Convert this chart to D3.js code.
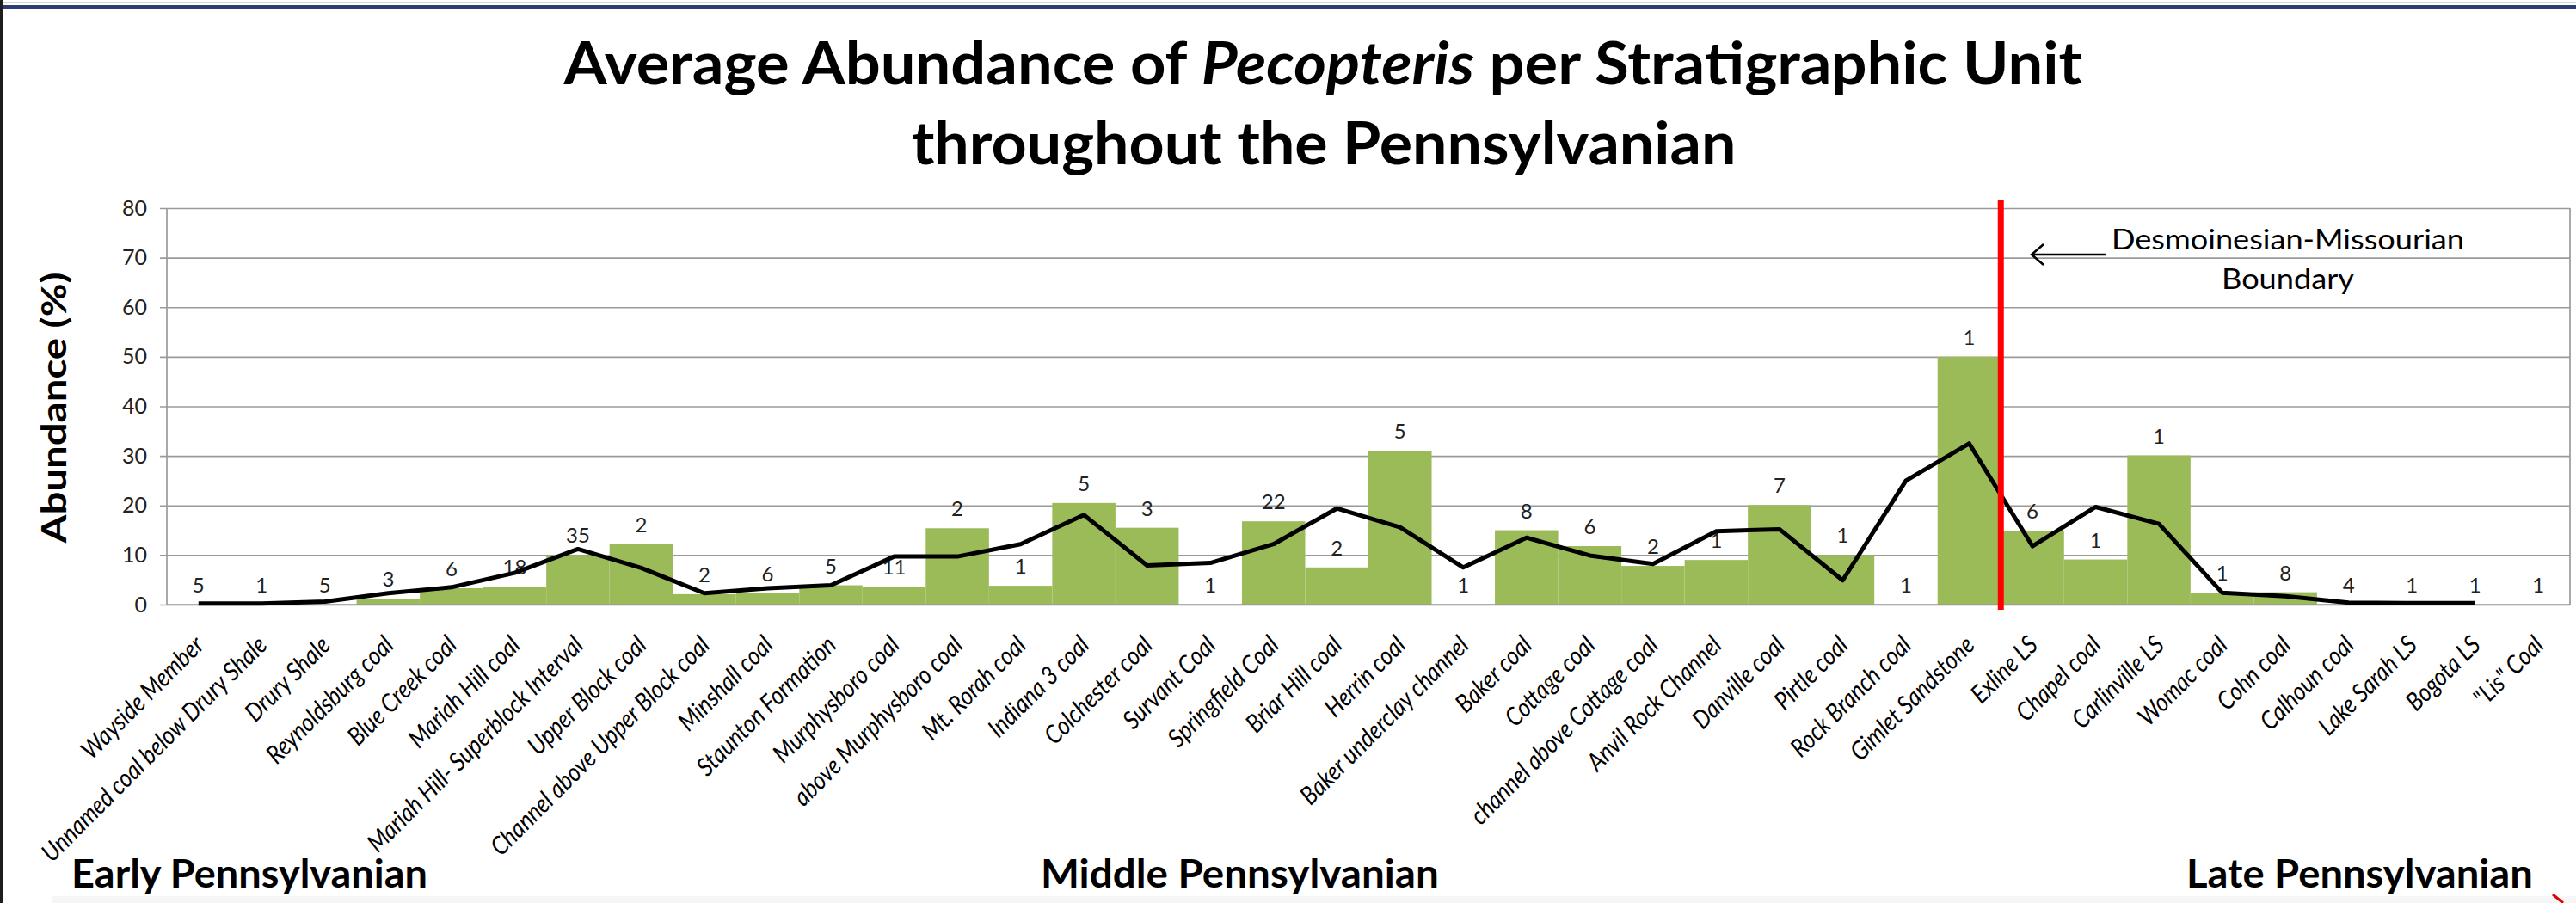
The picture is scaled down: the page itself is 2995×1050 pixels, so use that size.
<!DOCTYPE html>
<html><head><meta charset="utf-8">
<script src="https://cdn.jsdelivr.net/npm/d3@7"></script>
<style>html,body{margin:0;padding:0;background:#fff;} svg{display:block;}</style>
</head><body>
<svg id="c" width="2995" height="1050"></svg>
<script>
const categories = ["Wayside Member","Unnamed coal below Drury Shale","Drury Shale","Reynoldsburg coal","Blue Creek coal","Mariah Hill coal","Mariah Hill- Superblock Interval","Upper Block coal","Channel above Upper Block coal","Minshall coal","Staunton Formation","Murphysboro coal","above Murphysboro coal","Mt. Rorah coal","Indiana 3 coal","Colchester coal","Survant Coal","Springfield Coal","Briar Hill coal","Herrin coal","Baker underclay channel","Baker coal","Cottage coal","channel above Cottage coal","Anvil Rock Channel","Danville coal","Pirtle coal","Rock Branch coal","Gimlet Sandstone","Exline LS","Chapel coal","Carlinville LS","Womac coal","Cohn coal","Calhoun coal","Lake Sarah LS","Bogota LS","\"Lis\" Coal"];
const barValues = [0,0,0,1.2,3.3,3.6,10.0,12.2,2.1,2.3,3.9,3.6,15.4,3.8,20.5,15.5,0,16.8,7.5,31.0,0,15.0,11.8,7.8,9.0,20.1,10.0,0,50.0,14.9,9.1,30.1,2.4,2.5,0,0,0,0];
const lineValues = [0.2,0.2,0.6,2.3,3.5,6.4,11.2,7.4,2.3,3.3,3.9,9.7,9.7,12.2,18.1,7.9,8.4,12.2,19.4,15.6,7.5,13.5,9.9,8.2,14.8,15.2,4.9,25.0,32.5,11.8,19.7,16.3,2.4,1.7,0.4,0.3,0.3,null];
const sampleCounts = [5,1,5,3,6,18,35,2,2,6,5,11,2,1,5,3,1,22,2,5,1,8,6,2,1,7,1,1,1,6,1,1,1,8,4,1,1,1];
const yTicks = [0,10,20,30,40,50,60,70,80];
const titleLine1 = ["Average Abundance of ", "Pecopteris", " per Stratigraphic Unit"];
const titleLine2 = "throughout the Pennsylvanian";
const yTitle = "Abundance (%)";
const eraLabels = ["Early Pennsylvanian","Middle Pennsylvanian","Late Pennsylvanian"];
const boundaryCategory = "Exline LS";
const boundaryNote = ["Desmoinesian-Missourian","Boundary"];

const W = 2995, H = 1050;
const plot = {left:194, right:2988, top:242, bottom:703};
const FONT = "Lato, 'Open Sans', 'DejaVu Sans', sans-serif";
const GREEN = "#9bbb59", GRID = "#9a9a9a";

const svg = d3.select("#c");
const x = d3.scaleBand().domain(categories).range([plot.left, plot.right]).padding(0);
const y = d3.scaleLinear().domain([0, 80]).range([plot.bottom, plot.top]);
const cx = c => x(c) + x.bandwidth() / 2;

function fitX(sel, target, ox) {
  const len = sel.node().getComputedTextLength();
  const s = target / len;
  sel.attr("transform", `translate(${ox},0) scale(${s},1) translate(${-ox},0)`);
  return s;
}

// background & slide frame
svg.append("rect").attr("width", W).attr("height", H).attr("fill", "#fff");
svg.append("rect").attr("x", 0).attr("y", 2).attr("width", W).attr("height", 2).attr("fill", "#d4d4d4");
svg.append("rect").attr("x", 0).attr("y", 6).attr("width", W).attr("height", 4.5).attr("fill", "#2c3c74");
svg.append("rect").attr("x", 0).attr("y", 0).attr("width", 3).attr("height", H).attr("fill", "#1e1e1e");
svg.append("rect").attr("x", 60).attr("y", 1042).attr("width", W - 60).attr("height", 8).attr("fill", "#f6f6f6");

// title
const t1 = svg.append("text").attr("x", 1538).attr("y", 98).attr("text-anchor", "middle")
  .attr("font-family", FONT).attr("font-weight", 700).attr("font-size", 68).attr("fill", "#000");
titleLine1.forEach((s, i) => t1.append("tspan").text(s).attr("font-style", i === 1 ? "italic" : "normal"));
fitX(t1, 1765, 1538);
const t2 = svg.append("text").attr("x", 1539).attr("y", 191).attr("text-anchor", "middle")
  .attr("font-family", FONT).attr("font-weight", 700).attr("font-size", 68).attr("fill", "#000").text(titleLine2);
fitX(t2, 959, 1539);

// y axis with gridlines
const yAxisG = svg.append("g").attr("transform", `translate(${plot.right},0)`)
  .call(d3.axisLeft(y).tickValues(yTicks).tickSize(plot.right - plot.left + 8).tickPadding(15));
yAxisG.select(".domain").remove();
yAxisG.selectAll(".tick line").attr("stroke", GRID).attr("stroke-width", 1.7);
yAxisG.selectAll(".tick text").attr("font-family", FONT).attr("font-size", 25).attr("fill", "#222");

// bars
svg.append("g").selectAll("rect").data(categories).join("rect")
  .attr("x", c => x(c)).attr("width", x.bandwidth())
  .attr("y", (c, i) => y(barValues[i])).attr("height", (c, i) => y(0) - y(barValues[i]))
  .attr("fill", GREEN);

// axis lines & plot border
svg.append("line").attr("x1", plot.left).attr("x2", plot.left).attr("y1", plot.top).attr("y2", plot.bottom).attr("stroke", GRID).attr("stroke-width", 1.7);
svg.append("line").attr("x1", plot.right).attr("x2", plot.right).attr("y1", plot.top).attr("y2", plot.bottom).attr("stroke", GRID).attr("stroke-width", 1.7);
svg.append("line").attr("x1", plot.left).attr("x2", plot.right).attr("y1", y(0)).attr("y2", y(0)).attr("stroke", GRID).attr("stroke-width", 1.7);

// data labels (sample counts)
svg.append("g").selectAll("text").data(categories).join("text")
  .attr("x", c => cx(c)).attr("y", (c, i) => y(barValues[i]) - 14)
  .attr("text-anchor", "middle").attr("font-family", FONT).attr("font-size", 24).attr("fill", "#222")
  .text((c, i) => sampleCounts[i]);

// average line
const line = d3.line().defined(d => d != null).x((d, i) => cx(categories[i])).y(d => y(d));
svg.append("path").attr("d", line(lineValues)).attr("fill", "none").attr("stroke", "#000")
  .attr("stroke-width", 5).attr("stroke-linejoin", "round");

// category labels (slightly condensed to mimic the narrow original face)
const SQ = 0.88;
const xl = svg.append("g").selectAll("text").data(categories).join("text")
  .attr("text-anchor", "end").attr("font-family", FONT).attr("font-style", "italic")
  .attr("font-size", 24).attr("fill", "#000").text(c => c);
const longest = xl.filter(c => c === categories[1]).node().getComputedTextLength();
xl.attr("font-size", 24 * 356 / (longest * SQ))
  .attr("transform", c => `translate(${cx(c) + 8},752) rotate(-45) scale(${SQ},1)`);

// y title
const yt = svg.append("text").attr("transform", "translate(77,474) rotate(-90)")
  .attr("text-anchor", "middle").attr("font-family", FONT).attr("font-weight", 700)
  .attr("font-size", 40).attr("fill", "#000").text(yTitle);
const ytl = yt.node().getComputedTextLength();
yt.attr("transform", `translate(77,474) rotate(-90) scale(${315 / ytl},1)`);

// boundary line
svg.append("line").attr("x1", x(boundaryCategory)).attr("x2", x(boundaryCategory))
  .attr("y1", 233).attr("y2", 709).attr("stroke", "#ff0000").attr("stroke-width", 7);

// boundary annotation
const n1 = svg.append("text").attr("x", 2660).attr("y", 290).attr("text-anchor", "middle")
  .attr("font-family", FONT).attr("font-size", 33).attr("fill", "#000").text(boundaryNote[0]);
const sN = fitX(n1, 410, 2660);
svg.append("text").attr("x", 2660).attr("y", 336).attr("text-anchor", "middle")
  .attr("font-family", FONT).attr("font-size", 33).attr("fill", "#000").text(boundaryNote[1])
  .attr("transform", `translate(2660,0) scale(${sN},1) translate(-2660,0)`);
svg.append("path").attr("d", "M2448,296 L2362,296 M2376,284 L2362,296 L2376,308")
  .attr("fill", "none").attr("stroke", "#000").attr("stroke-width", 2.5);

// era labels
const eraPos = [[83, 414], [1210, 463], [2542, 403]];
eraLabels.forEach((s, i) => {
  const t = svg.append("text").attr("x", eraPos[i][0]).attr("y", 1032)
    .attr("font-family", FONT).attr("font-weight", 700).attr("font-size", 45).attr("fill", "#000").text(s);
  fitX(t, eraPos[i][1], eraPos[i][0]);
});

// small red mark at bottom-right corner
svg.append("path").attr("d", "M2968,1040 L2980,1050").attr("stroke", "#e00000").attr("stroke-width", 3);
</script>
</body></html>
